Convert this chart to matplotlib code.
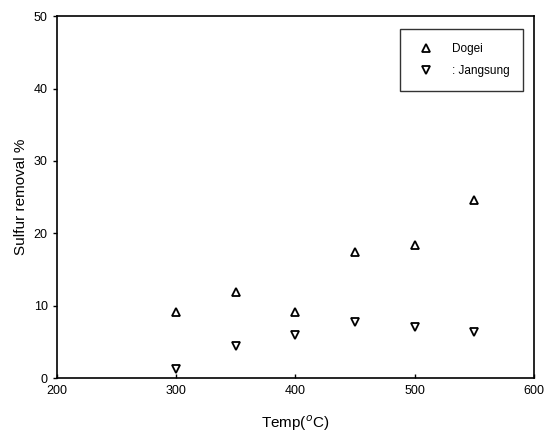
import matplotlib
matplotlib.use("Agg")
import matplotlib.pyplot as plt

plt.rcParams['font.family'] = ['Liberation Sans', 'DejaVu Sans']

temp = [300, 350, 400, 450, 500, 550]
dogei = [9.1, 11.9, 9.1, 17.4, 18.4, 24.6]
jangsung = [1.2, 4.4, 5.9, 7.7, 7.0, 6.4]

fig = plt.figure(figsize=(5.46, 4.36), dpi=100)
ax = fig.add_axes([0.104, 0.133, 0.874, 0.830])

ax.plot(temp, dogei, linestyle='none', marker='^', markersize=6,
        markerfacecolor='white', markeredgecolor='black', markeredgewidth=1.3,
        label='Dogei')
ax.plot(temp, jangsung, linestyle='none', marker='v', markersize=6,
        markerfacecolor='white', markeredgecolor='black', markeredgewidth=1.3,
        label=': Jangsung')

ax.set_xlim(200, 600)
ax.set_ylim(0, 50)
ax.set_xticks([200, 300, 400, 500, 600])
ax.set_yticks([0, 10, 20, 30, 40, 50])
ax.tick_params(axis='x', direction='in', length=3, width=1, labelsize=9, pad=5)
ax.tick_params(axis='y', direction='out', length=3, width=1, labelsize=9)
for s in ax.spines.values():
    s.set_linewidth(1.2)

ax.set_xlabel('Temp($^{o}$C)', fontsize=11, labelpad=12)
ax.set_ylabel('Sulfur removal %', fontsize=11)

leg = ax.legend(loc='upper right', bbox_to_anchor=(0.977, 0.964), borderaxespad=0,
                fontsize=8.5, frameon=True, fancybox=False, edgecolor='black',
                borderpad=1.15, handletextpad=1.2, labelspacing=0.9)
leg.get_frame().set_linewidth(1.0)

fig.savefig('out.png', dpi=100)
